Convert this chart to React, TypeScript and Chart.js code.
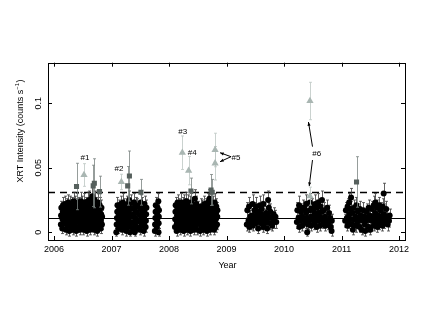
import React, { useEffect, useRef } from "react";
import { Chart, registerables } from "chart.js";

Chart.register(...registerables);

type P = [number, number, number]; // [year, rate (counts/s), 1-sigma error]

const season2006: P[] = [
  [2006.118,.006,.004],[2006.121,.013,.005],[2006.126,.019,.005],
  [2006.142,.003,.004],[2006.147,.010,.005],[2006.151,.016,.005],[2006.155,.021,.006],
  [2006.171,.007,.004],[2006.176,.012,.005],[2006.182,.018,.005],[2006.186,.022,.006],
  [2006.203,.002,.004],[2006.207,.009,.005],[2006.211,.015,.005],[2006.216,.020,.006],
  [2006.233,.005,.004],[2006.238,.011,.005],[2006.241,.017,.006],[2006.246,.023,.006],
  [2006.262,.001,.004],[2006.267,.008,.005],[2006.271,.014,.005],[2006.276,.019,.006],[2006.279,.022,.006],
  [2006.294,.004,.004],[2006.298,.010,.005],[2006.303,.016,.005],[2006.308,.021,.006],
  [2006.322,.002,.004],[2006.327,.007,.005],[2006.331,.013,.005],[2006.336,.018,.006],[2006.339,.024,.007],
  [2006.355,.005,.004],[2006.359,.011,.005],[2006.364,.016,.006],[2006.368,.022,.006],
  [2006.384,.001,.004],[2006.388,.008,.005],[2006.393,.014,.005],[2006.397,.020,.006],[2006.401,.023,.007],
  [2006.416,.004,.004],[2006.421,.010,.005],[2006.425,.015,.005],[2006.429,.021,.006],
  [2006.446,.002,.004],[2006.451,.007,.005],[2006.455,.013,.005],[2006.459,.018,.006],[2006.463,.024,.007],
  [2006.477,.005,.004],[2006.481,.011,.005],[2006.486,.017,.006],[2006.490,.022,.006],
  [2006.506,.002,.004],[2006.511,.008,.005],[2006.515,.014,.005],[2006.519,.019,.006],[2006.523,.023,.007],
  [2006.538,.004,.004],[2006.542,.010,.005],[2006.547,.016,.006],[2006.551,.021,.006],
  [2006.567,.001,.004],[2006.571,.007,.005],[2006.576,.012,.005],[2006.580,.018,.006],[2006.584,.024,.007],
  [2006.598,.004,.004],[2006.603,.009,.005],[2006.607,.015,.005],[2006.611,.020,.006],[2006.615,.025,.007],
  [2006.628,.002,.004],[2006.633,.008,.005],[2006.637,.013,.005],[2006.641,.019,.006],[2006.646,.023,.006],
  [2006.658,.005,.004],[2006.662,.011,.005],[2006.666,.017,.006],[2006.670,.022,.006],[2006.664,.028,.007],
  [2006.689,.002,.004],[2006.693,.007,.005],[2006.698,.014,.005],[2006.702,.020,.006],[2006.706,.025,.007],
  [2006.719,.004,.004],[2006.724,.010,.005],[2006.728,.016,.006],[2006.732,.021,.006],
  [2006.749,.001,.004],[2006.753,.008,.005],[2006.758,.013,.005],[2006.762,.018,.006],[2006.766,.023,.007],
  [2006.781,.005,.004],[2006.785,.011,.005],[2006.790,.016,.006],[2006.794,.021,.006],
  [2006.811,.003,.004],[2006.815,.009,.005],[2006.819,.014,.005],[2006.824,.019,.006],
  [2006.832,.006,.004],[2006.835,.012,.005],
];

const season2007: P[] = [
  [2007.082,.000,.003],[2007.088,.006,.004],[2007.093,.011,.005],[2007.098,.016,.005],[2007.102,.021,.006],
  [2007.118,.003,.004],[2007.123,.009,.005],[2007.127,.014,.005],[2007.131,.019,.006],
  [2007.148,.005,.004],[2007.152,.011,.005],[2007.157,.017,.006],[2007.161,.022,.006],
  [2007.178,.002,.004],[2007.183,.008,.005],[2007.187,.013,.005],[2007.191,.018,.006],[2007.195,.023,.007],
  [2007.209,.004,.004],[2007.214,.010,.005],[2007.218,.015,.005],[2007.222,.020,.006],
  [2007.256,.001,.004],[2007.261,.007,.005],[2007.265,.012,.005],[2007.269,.017,.006],[2007.273,.022,.006],
  [2007.288,.004,.004],[2007.292,.009,.005],[2007.297,.015,.005],[2007.301,.020,.006],[2007.305,.025,.007],
  [2007.318,.000,.003],[2007.322,.006,.004],[2007.327,.012,.005],[2007.331,.018,.006],[2007.334,.023,.006],
  [2007.372,.003,.004],[2007.377,.008,.005],[2007.381,.014,.005],[2007.385,.019,.006],[2007.389,.023,.007],
  [2007.402,.000,.003],[2007.406,.006,.004],[2007.411,.011,.005],[2007.415,.016,.006],[2007.419,.021,.006],
  [2007.433,.004,.004],[2007.437,.009,.005],[2007.442,.015,.005],[2007.446,.020,.006],
  [2007.488,.002,.004],[2007.492,.008,.005],[2007.497,.013,.005],[2007.501,.018,.006],[2007.505,.023,.006],
  [2007.522,.005,.004],[2007.526,.011,.005],[2007.531,.016,.006],[2007.535,.021,.006],
  [2007.556,.001,.004],[2007.561,.007,.005],[2007.565,.012,.005],[2007.569,.017,.006],[2007.573,.022,.006],
  [2007.592,.004,.004],[2007.597,.009,.005],[2007.601,.014,.005],[2007.606,.019,.006],
  [2007.752,.001,.004],[2007.756,.006,.004],[2007.761,.011,.005],[2007.765,.016,.005],[2007.768,.021,.006],
  [2007.786,.004,.004],[2007.791,.009,.005],[2007.795,.014,.005],[2007.799,.019,.006],[2007.813,.024,.006],
  [2007.816,.000,.003],[2007.819,.007,.004],[2007.822,.012,.005],[2007.824,.017,.006],
];

const season2008: P[] = [
  [2008.102,.004,.004],[2008.106,.010,.005],[2008.110,.016,.005],[2008.114,.021,.006],
  [2008.131,.001,.004],[2008.135,.007,.005],[2008.139,.013,.005],[2008.143,.018,.006],[2008.147,.023,.006],
  [2008.161,.004,.004],[2008.166,.010,.005],[2008.170,.015,.005],[2008.174,.020,.006],
  [2008.191,.002,.004],[2008.195,.008,.005],[2008.199,.013,.005],[2008.203,.019,.006],[2008.207,.023,.007],
  [2008.221,.005,.004],[2008.226,.011,.005],[2008.230,.016,.006],[2008.234,.021,.006],
  [2008.252,.001,.004],[2008.256,.007,.005],[2008.260,.012,.005],[2008.264,.018,.006],[2008.268,.023,.006],
  [2008.283,.004,.004],[2008.287,.009,.005],[2008.291,.015,.005],[2008.295,.020,.006],[2008.298,.024,.007],
  [2008.312,.002,.004],[2008.316,.008,.005],[2008.321,.013,.005],[2008.325,.019,.006],[2008.329,.023,.006],
  [2008.343,.005,.004],[2008.347,.011,.005],[2008.351,.016,.006],[2008.355,.022,.006],
  [2008.372,.001,.004],[2008.376,.007,.005],[2008.380,.012,.005],[2008.384,.018,.006],[2008.388,.023,.007],
  [2008.403,.004,.004],[2008.407,.010,.005],[2008.411,.015,.005],[2008.415,.021,.006],
  [2008.433,.002,.004],[2008.437,.008,.005],[2008.441,.014,.005],[2008.445,.019,.006],[2008.449,.026,.007],
  [2008.463,.005,.004],[2008.467,.011,.005],[2008.471,.016,.006],[2008.475,.022,.006],
  [2008.489,.002,.004],[2008.493,.008,.005],[2008.497,.013,.005],[2008.501,.018,.006],
  [2008.538,.001,.004],[2008.542,.006,.005],[2008.546,.011,.005],[2008.550,.016,.006],[2008.553,.020,.006],
  [2008.568,.004,.004],[2008.572,.009,.005],[2008.576,.014,.005],[2008.580,.019,.006],
  [2008.598,.002,.004],[2008.602,.007,.005],[2008.606,.012,.005],[2008.610,.017,.006],[2008.614,.022,.006],
  [2008.628,.005,.004],[2008.632,.010,.005],[2008.636,.015,.005],[2008.640,.020,.006],
  [2008.657,.001,.004],[2008.661,.007,.005],[2008.665,.013,.005],[2008.669,.018,.006],[2008.673,.023,.007],
  [2008.687,.004,.004],[2008.691,.009,.005],[2008.695,.015,.005],[2008.699,.021,.006],[2008.702,.026,.007],
  [2008.717,.002,.004],[2008.721,.008,.005],[2008.725,.013,.005],[2008.729,.019,.006],[2008.733,.023,.006],
  [2008.748,.005,.004],[2008.752,.011,.005],[2008.756,.016,.006],[2008.760,.022,.006],
  [2008.778,.002,.004],[2008.782,.008,.005],[2008.786,.013,.005],[2008.790,.018,.006],[2008.794,.023,.007],
  [2008.809,.004,.004],[2008.813,.010,.005],[2008.817,.015,.005],[2008.821,.020,.006],
  [2008.834,.006,.004],[2008.838,.012,.005],[2008.841,.017,.006],
];

const season2009: P[] = [
  [2009.352,.006,.005],[2009.361,.017,.006],
  [2009.381,.009,.005],[2009.391,.020,.007],[2009.395,.004,.004],
  [2009.412,.012,.005],[2009.425,.007,.005],
  [2009.443,.013,.005],[2009.452,.022,.007],[2009.456,.005,.004],
  [2009.474,.010,.005],[2009.487,.017,.006],
  [2009.505,.007,.005],[2009.514,.020,.007],[2009.518,.013,.005],
  [2009.536,.009,.005],[2009.545,.016,.006],[2009.549,.003,.004],
  [2009.567,.011,.005],[2009.580,.021,.007],
  [2009.598,.007,.005],[2009.602,.014,.005],[2009.611,.018,.006],
  [2009.629,.010,.005],[2009.642,.022,.007],[2009.638,.004,.004],
  [2009.660,.013,.005],[2009.669,.007,.004],
  [2009.691,.015,.005],[2009.700,.009,.005],[2009.704,.003,.004],
  [2009.722,.025,.007],[2009.731,.012,.005],[2009.735,.019,.006],
  [2009.753,.007,.005],[2009.762,.016,.006],
  [2009.784,.011,.005],[2009.793,.005,.004],
  [2009.819,.014,.005],[2009.824,.008,.005],
  [2009.850,.012,.005],[2009.864,.008,.005],
];

const season2010: P[] = [
  [2010.222,.008,.005],[2010.231,.017,.006],
  [2010.252,.011,.005],[2010.261,.021,.007],[2010.265,.004,.004],
  [2010.283,.009,.005],[2010.292,.016,.006],
  [2010.313,.012,.005],[2010.326,.019,.006],[2010.317,.005,.004],
  [2010.344,.010,.005],[2010.357,.018,.006],
  [2010.374,.008,.005],[2010.383,.015,.006],[2010.387,.022,.007],
  [2010.402,.000,.003],[2010.406,.011,.005],[2010.415,.006,.004],
  [2010.435,.009,.005],[2010.444,.017,.006],[2010.448,.023,.007],
  [2010.466,.012,.005],[2010.479,.020,.006],[2010.470,.005,.004],
  [2010.497,.010,.005],[2010.510,.017,.006],
  [2010.527,.007,.005],[2010.536,.014,.006],[2010.540,.022,.007],
  [2010.558,.011,.005],[2010.571,.019,.006],[2010.567,.004,.004],
  [2010.588,.009,.005],[2010.597,.023,.007],[2010.592,.015,.005],
  [2010.619,.012,.005],[2010.632,.020,.006],[2010.628,.005,.004],
  [2010.650,.010,.005],[2010.659,.025,.007],[2010.654,.016,.005],
  [2010.680,.008,.005],[2010.689,.017,.006],
  [2010.711,.012,.005],[2010.720,.005,.004],
  [2010.741,.009,.005],[2010.750,.019,.006],
  [2010.772,.007,.005],[2010.781,.015,.006],
  [2010.802,.011,.005],[2010.811,.004,.004],
  [2010.826,.001,.004],[2010.830,.009,.005],
];

const season2011: P[] = [
  [2011.062,.009,.005],[2011.075,.017,.006],
  [2011.092,.011,.005],[2011.101,.005,.004],[2011.105,.020,.006],
  [2011.122,.008,.005],[2011.131,.023,.007],[2011.135,.014,.005],
  [2011.152,.010,.005],[2011.161,.018,.006],[2011.165,.027,.007],
  [2011.183,.006,.005],[2011.192,.015,.006],[2011.196,.002,.004],
  [2011.213,.010,.005],[2011.222,.019,.006],
  [2011.244,.012,.005],[2011.253,.005,.005],[2011.257,.021,.006],
  [2011.274,.008,.005],[2011.283,.016,.006],
  [2011.305,.011,.005],[2011.314,.004,.004],[2011.318,.018,.006],
  [2011.335,.013,.005],[2011.348,.002,.004],
  [2011.366,.009,.005],[2011.379,.017,.006],
  [2011.397,.012,.005],[2011.406,.006,.005],[2011.410,.001,.004],
  [2011.427,.009,.005],[2011.436,.016,.006],
  [2011.458,.011,.005],[2011.467,.004,.004],[2011.471,.019,.006],
  [2011.488,.013,.005],[2011.501,.002,.004],
  [2011.519,.009,.005],[2011.528,.018,.006],
  [2011.549,.012,.005],[2011.558,.021,.007],[2011.562,.005,.004],
  [2011.580,.008,.005],[2011.589,.023,.007],[2011.584,.015,.005],
  [2011.610,.011,.005],[2011.619,.019,.006],[2011.623,.004,.004],
  [2011.641,.013,.005],[2011.654,.021,.006],[2011.650,.007,.005],
  [2011.671,.009,.005],[2011.680,.017,.006],
  [2011.702,.011,.005],[2011.711,.005,.004],[2011.715,.020,.006],
  [2011.732,.030,.008],[2011.736,.014,.005],[2011.745,.008,.005],
  [2011.763,.010,.005],[2011.776,.018,.006],
  [2011.793,.012,.005],[2011.802,.006,.005],
  [2011.824,.009,.005],[2011.836,.013,.005],
];

// points above the 3-sigma level (grey squares)
const highPoints: P[] = [
  [2006.39,.0355,.018],[2006.68,.036,.016],[2006.70,.038,.019],[2006.79,.0315,.012],
  [2007.28,.036,.015],[2007.31,.0436,.0194],[2007.51,.031,.010],
  [2008.38,.032,.010],[2008.73,.0328,.012],[2008.75,.031,.010],
  [2011.26,.039,.0196],
];

// flares #1 - #6 (light grey triangles)
const flarePoints: P[] = [
  [2006.52,.0444,.0088],[2007.17,.039,.006],[2008.23,.0617,.013],[2008.34,.0478,.011],
  [2008.80,.0638,.013],[2008.80,.0535,.013],[2010.45,.1018,.0145],[2010.45,.028,.007],
];

const meanLevel = 0.011;
const thresholdLevel = 0.031;

const xTicks = [2006, 2007, 2008, 2009, 2010, 2011, 2012];
const yTicks = [0, 0.05, 0.1];
const yTickLabels = ["0", "0.05", "0.1"];

const flareLabels: { text: string; x: number; y: number }[] = [
  { text: "#1", x: 2006.537, y: 0.0574 },
  { text: "#2", x: 2007.129, y: 0.0496 },
  { text: "#3", x: 2008.236, y: 0.078 },
  { text: "#4", x: 2008.403, y: 0.062 },
  { text: "#5", x: 2009.163, y: 0.0581 },
  { text: "#6", x: 2010.567, y: 0.0612 },
];

// arrows: [fromX, fromY, toX, toY]
const arrows: [number, number, number, number][] = [
  [2009.077, 0.0586, 2008.886, 0.0617],
  [2009.077, 0.0586, 2008.886, 0.0547],
  [2010.494, 0.0664, 2010.424, 0.0855],
  [2010.494, 0.056, 2010.437, 0.0358],
];

const FONT = '"Liberation Sans", Arial, sans-serif';

const toObj = (a: P[]) => a.map(([x, y, e]) => ({ x, y, e }));

const customPlugin = {
  id: "custom",
  beforeDatasetsDraw(chart: any) {
    const { ctx, chartArea: a, scales } = chart;
    const y = scales.y;
    ctx.save();
    ctx.strokeStyle = "#000";
    ctx.lineWidth = 1;
    const ys = Math.round(y.getPixelForValue(meanLevel)) + 0.5;
    ctx.beginPath();
    ctx.moveTo(a.left, ys);
    ctx.lineTo(a.right, ys);
    ctx.stroke();
    ctx.lineWidth = 1.3;
    ctx.setLineDash([7, 5]);
    const yd = Math.round(y.getPixelForValue(thresholdLevel)) + 0.5;
    ctx.beginPath();
    ctx.moveTo(a.left, yd);
    ctx.lineTo(a.right, yd);
    ctx.stroke();
    ctx.restore();
  },
  beforeDatasetDraw(chart: any, args: any) {
    const { ctx, chartArea: a, scales } = chart;
    const y = scales.y;
    const ds = chart.data.datasets[args.index];
    const meta = args.meta;
    ctx.save();
    ctx.beginPath();
    ctx.rect(a.left, a.top, a.right - a.left, a.bottom - a.top);
    ctx.clip();
    ctx.strokeStyle = ds.errColor;
    ctx.lineWidth = 0.8;
    meta.data.forEach((el: any, i: number) => {
      const d = ds.data[i];
      const px = Math.round(el.x) + 0.5;
      const top = y.getPixelForValue(d.y + d.e);
      const bot = y.getPixelForValue(d.y - d.e);
      ctx.beginPath();
      ctx.moveTo(px, top);
      ctx.lineTo(px, bot);
      ctx.moveTo(px - 1.5, top);
      ctx.lineTo(px + 1.5, top);
      ctx.moveTo(px - 1.5, bot);
      ctx.lineTo(px + 1.5, bot);
      ctx.stroke();
    });
    ctx.restore();
  },
  afterDraw(chart: any) {
    const { ctx, chartArea: a, scales } = chart;
    const x = scales.x;
    const y = scales.y;
    ctx.save();
    // frame
    ctx.strokeStyle = "#000";
    ctx.lineWidth = 1;
    ctx.strokeRect(Math.round(a.left) + 0.5, Math.round(a.top) + 0.5,
      Math.round(a.right - a.left), Math.round(a.bottom - a.top));
    // ticks
    ctx.beginPath();
    xTicks.forEach((v) => {
      const px = Math.round(x.getPixelForValue(v)) + 0.5;
      ctx.moveTo(px, a.bottom);
      ctx.lineTo(px, a.bottom - 4);
      ctx.moveTo(px, a.top);
      ctx.lineTo(px, a.top + 4);
    });
    yTicks.forEach((v) => {
      const py = Math.round(y.getPixelForValue(v)) + 0.5;
      ctx.moveTo(a.left, py);
      ctx.lineTo(a.left + 4, py);
      ctx.moveTo(a.right, py);
      ctx.lineTo(a.right - 4, py);
    });
    ctx.stroke();
    // x tick labels
    ctx.fillStyle = "#000";
    ctx.font = `9px ${FONT}`;
    ctx.textAlign = "center";
    ctx.textBaseline = "middle";
    xTicks.forEach((v) => {
      ctx.fillText(String(v), x.getPixelForValue(v), a.bottom + 9.5);
    });
    // x title
    ctx.fillText("Year", (a.left + a.right) / 2 + 1, a.bottom + 26);
    // y tick labels (rotated)
    yTicks.forEach((v, i) => {
      ctx.save();
      ctx.translate(a.left - 9, y.getPixelForValue(v));
      ctx.rotate(-Math.PI / 2);
      ctx.fillText(yTickLabels[i], 0, 0);
      ctx.restore();
    });
    // y title with superscript
    ctx.save();
    ctx.translate(21, 131);
    ctx.rotate(-Math.PI / 2);
    ctx.textAlign = "left";
    ctx.textBaseline = "middle";
    const main = "XRT Intensity (counts s";
    const sup = "\u22121";
    const close = ")";
    ctx.font = `9px ${FONT}`;
    const wMain = ctx.measureText(main).width;
    const wClose = ctx.measureText(close).width;
    ctx.font = `6px ${FONT}`;
    const wSup = ctx.measureText(sup).width;
    const total = wMain + wSup + 0.5 + wClose;
    let cx = -total / 2;
    ctx.font = `9px ${FONT}`;
    ctx.fillText(main, cx, 0);
    cx += wMain;
    ctx.font = `6px ${FONT}`;
    ctx.fillText(sup, cx, -3.5);
    cx += wSup + 0.5;
    ctx.font = `9px ${FONT}`;
    ctx.fillText(close, cx, 0);
    ctx.restore();
    // flare labels
    ctx.font = `8px ${FONT}`;
    ctx.textAlign = "center";
    ctx.textBaseline = "middle";
    flareLabels.forEach((l) => {
      ctx.fillText(l.text, x.getPixelForValue(l.x), y.getPixelForValue(l.y));
    });
    // arrows
    ctx.lineWidth = 1;
    arrows.forEach(([x1, y1, x2, y2]) => {
      const p1x = x.getPixelForValue(x1), p1y = y.getPixelForValue(y1);
      const p2x = x.getPixelForValue(x2), p2y = y.getPixelForValue(y2);
      const ang = Math.atan2(p2y - p1y, p2x - p1x);
      ctx.beginPath();
      ctx.moveTo(p1x, p1y);
      ctx.lineTo(p2x, p2y);
      ctx.stroke();
      const hl = 4, hw = 0.4;
      ctx.beginPath();
      ctx.moveTo(p2x, p2y);
      ctx.lineTo(p2x - hl * Math.cos(ang - hw), p2y - hl * Math.sin(ang - hw));
      ctx.lineTo(p2x - hl * Math.cos(ang + hw), p2y - hl * Math.sin(ang + hw));
      ctx.closePath();
      ctx.fill();
    });
    ctx.restore();
  },
};

export default function App() {
  const ref = useRef<HTMLCanvasElement | null>(null);
  useEffect(() => {
    if (!ref.current) return;
    const blackPoints = [
      ...season2006, ...season2007, ...season2008,
      ...season2009, ...season2010, ...season2011,
    ];
    const chart = new Chart(ref.current, {
      type: "scatter",
      data: {
        datasets: [
          {
            label: "flares",
            data: toObj(flarePoints),
            pointStyle: "triangle",
            pointRadius: 4.2,
            backgroundColor: "#a9b6b2",
            borderWidth: 0,
            errColor: "#bcc6c3",
          } as any,
          {
            label: "high",
            data: toObj(highPoints),
            pointStyle: "rect",
            pointRadius: 3.6,
            backgroundColor: "#56605d",
            borderWidth: 0,
            errColor: "#7b8481",
          } as any,
          {
            label: "data",
            data: toObj(blackPoints),
            pointStyle: "circle",
            pointRadius: 3,
            backgroundColor: "#000",
            borderWidth: 0,
            errColor: "#3a3a3a",
          } as any,
        ],
      },
      options: {
        animation: false,
        responsive: false,
        devicePixelRatio: 1,
        events: [],
        layout: { padding: { left: 48, top: 62.7, right: 17, bottom: 86 } },
        plugins: {
          legend: { display: false },
          tooltip: { enabled: false },
          title: { display: false },
        },
        scales: {
          x: { type: "linear", display: false, min: 2005.894, max: 2012.103 },
          y: { type: "linear", display: false, min: -0.006, max: 0.1315 },
        },
      },
      plugins: [customPlugin],
    });
    return () => chart.destroy();
  }, []);
  return (
    <div style={{ position: "fixed", left: 0, top: 0, width: 422, height: 326, background: "#fff" }}>
      <canvas ref={ref} width={422} height={326} style={{ width: 422, height: 326, display: "block" }} />
    </div>
  );
}
